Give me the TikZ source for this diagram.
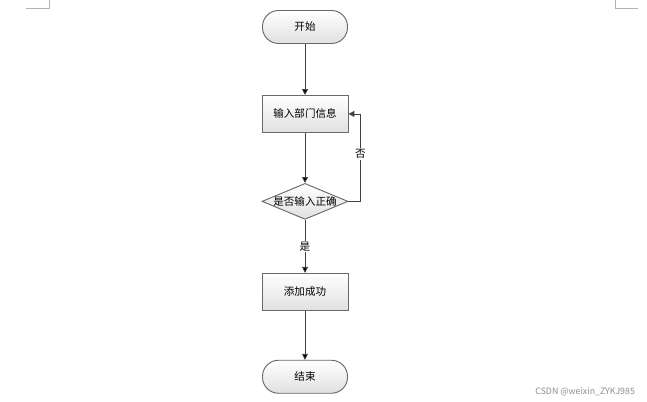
\documentclass[tikz,border=0pt]{standalone}
\usepackage{fontspec}
\newfontfamily\cjk{Noto Sans CJK SC}
\usetikzlibrary{positioning,arrows.meta,shapes.geometric}
\definecolor{linegray}{RGB}{64,64,64}
\definecolor{framegray}{RGB}{105,105,105}

\begin{document}
\begin{tikzpicture}[x=0.03cm,y=-0.03cm,node distance=1.56cm,
    font=\cjk\fontsize{9}{10}\selectfont,
    base/.style={draw=framegray, line width=0.8pt, top color=white, bottom color=black!12},
    terminal/.style={base, rectangle, rounded corners=0.48cm, minimum width=2.55cm, minimum height=0.99cm},
    process/.style={base, rectangle, minimum width=2.58cm, minimum height=1.11cm},
    decision/.style={base, diamond, aspect=2.4, inner sep=0pt, minimum width=2.58cm, minimum height=1.08cm},
    arrow/.style={draw=linegray, line width=0.6pt, -{Triangle[length=5pt,width=5pt]}}]

    \useasboundingbox (0,0) rectangle (647,402);

    \node[terminal] (start) at (305,27) {开始};
    \node[process] (input) [below=1.53cm of start] {输入部门信息};
    \node[decision] (check) [below=1.5cm of input] {\makebox[0pt]{是否输入正确}};
    \node[process] (add) [below=1.59cm of check] {添加成功};
    \node[terminal] (stop) [below=1.47cm of add] {结束};

    \path[arrow] (start) edge (input);
    \path[arrow] (input) edge (check);
    \path[arrow] (check) edge node[fill=white, inner sep=1pt] {是} (add);
    \path[arrow] (add) edge (stop);
    \draw[arrow] (check.east) -- ++(12,0) |- node[pos=0.27, fill=white, inner sep=1pt] {否} (input.east);

    % page corner marks
    \draw[black!30] (26,8) -- (49,8) -- (49,0);
    \draw[black!30] (615,0) -- (615,8) -- (638,8);

    \node[anchor=east, text=black!45, font=\cjk\fontsize{7.5}{8}\selectfont] (mark) at (639,392) {CSDN @weixin\_ZYKJ985};

\end{tikzpicture}
\end{document}
